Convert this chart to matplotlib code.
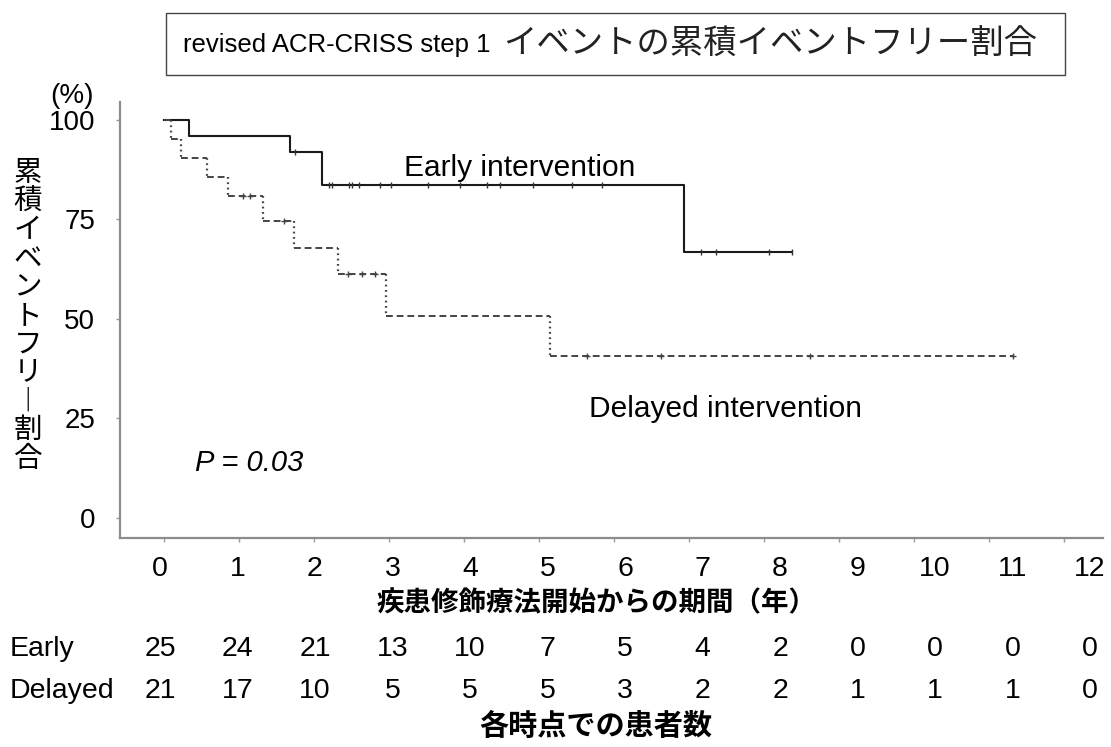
import numpy as np
import matplotlib
matplotlib.use('Agg')
import matplotlib.pyplot as plt
from matplotlib.patches import Rectangle

matplotlib.rcParams['font.family'] = ['Liberation Sans', 'Noto Sans CJK JP']

# data
years = list(range(13))

early_event_t = [0.34, 1.68, 2.11, 6.93]
early_event_s = [96.0, 92.0, 83.6, 66.8]
early_censor_t = [1.75, 2.20, 2.24, 2.47, 2.51, 2.60, 2.89, 3.03, 3.53, 3.95,
                  4.31, 4.48, 4.92, 5.44, 5.84, 7.16, 7.36, 8.07, 8.38]
early_end = 8.38

delayed_event_t = [0.10, 0.23, 0.58, 0.86, 1.32, 1.74, 2.33, 2.97, 5.15]
delayed_event_s = [95.2, 90.5, 85.7, 81.0, 74.6, 67.8, 61.2, 50.8, 40.7]
delayed_censor_t = [1.06, 1.15, 1.60, 2.46, 2.64, 2.82, 5.64, 6.63, 8.61, 11.32]
delayed_end = 11.32

risk_early = [25, 24, 21, 13, 10, 7, 5, 4, 2, 0, 0, 0, 0]
risk_delayed = [21, 17, 10, 5, 5, 5, 3, 2, 2, 1, 1, 1, 0]

title_latin = 'revised ACR-CRISS step 1'
title_jp = 'イベントの累積イベントフリー割合'
ylabel = '累積イベントフリー割合'
xlabel = '疾患修飾療法開始からの期間（年）'
table_label = '各時点での患者数'

W, H = 1111, 747
fig = plt.figure(figsize=(W/100, H/100), dpi=100)
ax = fig.add_axes([120/W, 1-537.7/H, 983/W, (537.7-102)/H])


def level_at(tc, ev_t, ev_s):
    idx = np.searchsorted(ev_t, tc, side='right')
    return np.r_[100.0, ev_s][idx]


# Early: solid step
t = np.r_[0, early_event_t, early_end]
s = np.r_[100, early_event_s, early_event_s[-1]]
ax.step(t, s, where='post', color='#1a1a1a', lw=1.5)
ax.plot(early_censor_t, level_at(early_censor_t, early_event_t, early_event_s),
        ls='none', marker='|', ms=5, mew=1.0, color='#333333')

# Delayed: dashed horizontals, dotted verticals
t = np.r_[0, delayed_event_t, delayed_end]
s = np.r_[100, delayed_event_s]
ax.hlines(s, t[:-1], t[1:], colors='#444444', lw=1.4, linestyles=(0, (3.5, 2.0)))
ax.vlines(delayed_event_t, s[:-1], s[1:], colors='#444444', lw=1.6, linestyles=(0, (0.8, 1.6)))
ax.plot(delayed_censor_t, level_at(delayed_censor_t, delayed_event_t, delayed_event_s),
        ls='none', marker='+', ms=5, mew=1.0, color='#444444')

ax.set_xlim(-0.58, 12.52)
ax.set_ylim(-4.95, 104.5)
for sp in ['top', 'right']:
    ax.spines[sp].set_visible(False)
for sp in ['left', 'bottom']:
    ax.spines[sp].set_color('#8c8c8c')
    ax.spines[sp].set_linewidth(1.6)
ax.set_xticks(years)
ax.set_xticklabels([])
ax.set_yticks([0, 25, 50, 75, 100])
ax.tick_params(axis='both', length=3, width=1, color='#999999', direction='out')
ax.tick_params(axis='y', labelsize=20, pad=15)

ax.text(3.2, 84.5, 'Early intervention', fontsize=21.5, ha='left', va='bottom')
ax.text(5.67, 27.5, 'Delayed intervention', fontsize=21.5, ha='left', va='center')
ax.text(0.42, 13.8, 'P = 0.03', fontsize=21, style='italic', ha='left', va='center')

# overlay in pixel coordinates for title, labels and the at-risk table
lay = fig.add_axes([0, 0, 1, 1])
lay.set_xlim(0, W)
lay.set_ylim(H, 0)
lay.axis('off')
lay.patch.set_alpha(0)

lay.add_patch(Rectangle((166, 13), 899, 62, fill=False, ec='#444444', lw=1.0))
lay.text(183, 45, title_latin, fontsize=18.5, ha='left', va='center')
lay.text(503, 45, title_jp, fontsize=24, ha='left', va='center', color='#222222')

lay.text(72, 96, '(%)', fontsize=20, ha='center', va='center')
vert = '\n'.join('︱' if c == 'ー' else c for c in ylabel)
lay.text(28, 317, vert, fontsize=20.5, ha='center', va='center', linespacing=1.13)

col_x = 160 + 77.5*np.arange(len(years))
for x, yr, e, d in zip(col_x, years, risk_early, risk_delayed):
    lay.text(x, 569, str(yr), fontsize=20.5, ha='center', va='center')
    lay.text(x, 649, str(e), fontsize=20.5, ha='center', va='center')
    lay.text(x, 691, str(d), fontsize=20.5, ha='center', va='center')
lay.text(10, 649, 'Early', fontsize=20.5, ha='left', va='center')
lay.text(10, 691, 'Delayed', fontsize=20.5, ha='left', va='center')
lay.text(596, 604, xlabel, fontsize=19.8, fontweight='bold', ha='center', va='center')
lay.text(596, 727, table_label, fontsize=21, fontweight='bold', ha='center', va='center')

fig.savefig('out.png', dpi=100)
